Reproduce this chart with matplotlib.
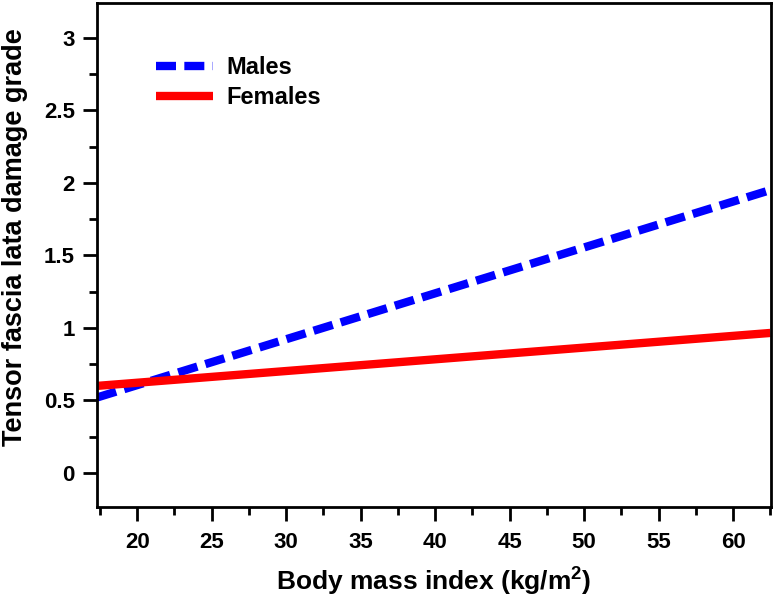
import numpy as np
import matplotlib.pyplot as plt
from matplotlib.ticker import MultipleLocator

plt.rcParams['font.family'] = ['Liberation Sans', 'DejaVu Sans']
plt.rcParams['font.weight'] = 'bold'
plt.rcParams['mathtext.fontset'] = 'custom'
plt.rcParams['mathtext.bf'] = 'Liberation Sans:bold'

# fitted lines (end points)
bmi = [17.3, 62.5]
males = [0.52, 1.95]
females = [0.60, 0.965]

fig = plt.figure(figsize=(7.74, 5.95), dpi=100)
ax = fig.add_axes([97 / 774, 88 / 595, 674 / 774, 504 / 595])

ax.plot(bmi, males, color='#0000ff', lw=6, dashes=(2.4, 1.0), label='Males')
ax.plot(bmi, females, color='#ff0000', lw=6, label='Females', solid_capstyle='butt')

ax.set_xlim(17.3, 62.55)
ax.set_ylim(-0.235, 3.24)
ax.xaxis.set_major_locator(MultipleLocator(5))
ax.xaxis.set_minor_locator(MultipleLocator(2.5))
ax.yaxis.set_minor_locator(MultipleLocator(0.25))
ax.set_yticks([0, 0.5, 1, 1.5, 2, 2.5, 3])
ax.set_yticklabels(['0', '0.5', '1', '1.5', '2', '2.5', '3'])

ax.tick_params(which='major', direction='out', length=10, width=2, labelsize=16)
ax.tick_params(axis='x', which='major', pad=8)
ax.tick_params(axis='y', which='major', pad=6)
ax.tick_params(which='minor', direction='out', length=6, width=2)
for s in ax.spines.values():
    s.set_linewidth(2)

ax.set_xlabel('Body mass index (kg/m$^{\\mathbf{2}}$)', fontsize=19, fontweight='bold', va='center')
ax.xaxis.set_label_coords(0.5, -0.145)
ax.set_ylabel('Tensor fascia lata damage grade', fontsize=19.5, fontweight='bold', va='center')
ax.yaxis.set_label_coords(-0.121, 0.535)

ax.legend(loc='upper left', bbox_to_anchor=(0.056, 0.937), frameon=False, fontsize=17,
          handlelength=2.4, handletextpad=0.6, labelspacing=0.3)

plt.savefig('out.png', dpi=100)
